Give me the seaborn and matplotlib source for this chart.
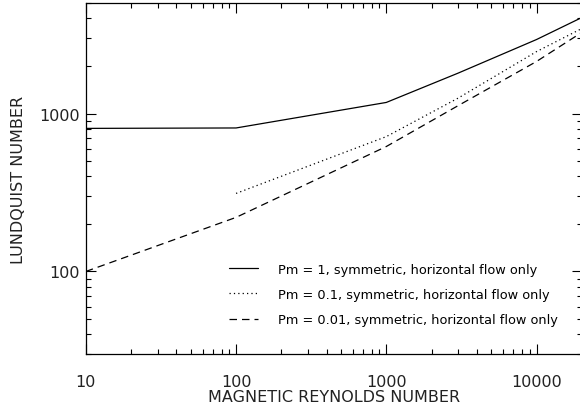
"""Lundquist number vs magnetic Reynolds number (log-log)."""

import pandas as pd
import matplotlib
matplotlib.use("Agg")
import matplotlib.pyplot as plt
import matplotlib.ticker as mticker
import seaborn as sns

# values
rm_pm1 = [10, 100, 1000, 3000, 10000, 20000]
s_pm1 = [805, 810, 1175, 1800, 2940, 4050]

rm_pm01 = [100, 1000, 3000, 10000, 20000]
s_pm01 = [312, 714, 1250, 2465, 3450]

rm_pm001 = [10, 100, 1000, 3000, 10000, 20000]
s_pm001 = [100, 220, 618, 1120, 2135, 3260]

labels = [
    "Pm = 1, symmetric, horizontal flow only",
    "Pm = 0.1, symmetric, horizontal flow only",
    "Pm = 0.01, symmetric, horizontal flow only",
]

df = pd.concat([
    pd.DataFrame({"Rm": rm_pm1, "S": s_pm1, "case": labels[0]}),
    pd.DataFrame({"Rm": rm_pm01, "S": s_pm01, "case": labels[1]}),
    pd.DataFrame({"Rm": rm_pm001, "S": s_pm001, "case": labels[2]}),
])

sns.set_style("ticks")
plt.rcParams["font.family"] = ["DejaVu Sans"]
plt.rcParams["text.color"] = "black"
plt.rcParams["axes.labelcolor"] = "black"

fig = plt.figure(figsize=(5.8, 4.1), dpi=100)
ax = fig.add_axes([0.148, 0.134, 0.855, 0.856])

sns.lineplot(
    data=df, x="Rm", y="S", style="case", style_order=labels,
    dashes={labels[0]: "", labels[1]: (1, 2.5), labels[2]: (6, 4)},
    color="black", linewidth=0.9, ax=ax, sort=False, estimator=None,
)

ax.set_xscale("log")
ax.set_yscale("log")
ax.set_xlim(10, 20000)
ax.set_ylim(30, 5000)

ax.xaxis.set_major_locator(mticker.FixedLocator([10, 100, 1000, 10000]))
ax.xaxis.set_major_formatter(mticker.FixedFormatter(["10", "100", "1000", "10000"]))
ax.yaxis.set_major_locator(mticker.FixedLocator([100, 1000]))
ax.yaxis.set_major_formatter(mticker.FixedFormatter(["100", "1000"]))
ax.xaxis.set_minor_locator(mticker.LogLocator(subs=range(2, 10)))
ax.yaxis.set_minor_locator(mticker.LogLocator(subs=range(2, 10)))
ax.xaxis.set_minor_formatter(mticker.NullFormatter())
ax.yaxis.set_minor_formatter(mticker.NullFormatter())

ax.tick_params(which="both", direction="in", top=True, right=True,
               color="black", labelcolor="#222222", width=0.8, labelsize=11.5)
ax.tick_params(axis="x", which="major", pad=14)
ax.tick_params(axis="y", which="major", pad=4.5)
ax.tick_params(which="major", length=7)
ax.tick_params(which="minor", length=3.5)
for sp in ax.spines.values():
    sp.set_linewidth(0.9)
    sp.set_color("black")

ax.set_xlabel("MAGNETIC REYNOLDS NUMBER", fontsize=11.5, labelpad=0,
              color="#222222")
ax.set_ylabel("LUNDQUIST NUMBER", fontsize=11.5, labelpad=9.5, color="#222222")

ax.legend(loc="upper left", bbox_to_anchor=(0.395, 0.357),
          bbox_transform=fig.transFigure, frameon=False, borderpad=0,
          borderaxespad=0, fontsize=9.3, handlelength=2.2,
          handletextpad=1.6, labelspacing=0.95)

fig.savefig("out.png", dpi=100)
